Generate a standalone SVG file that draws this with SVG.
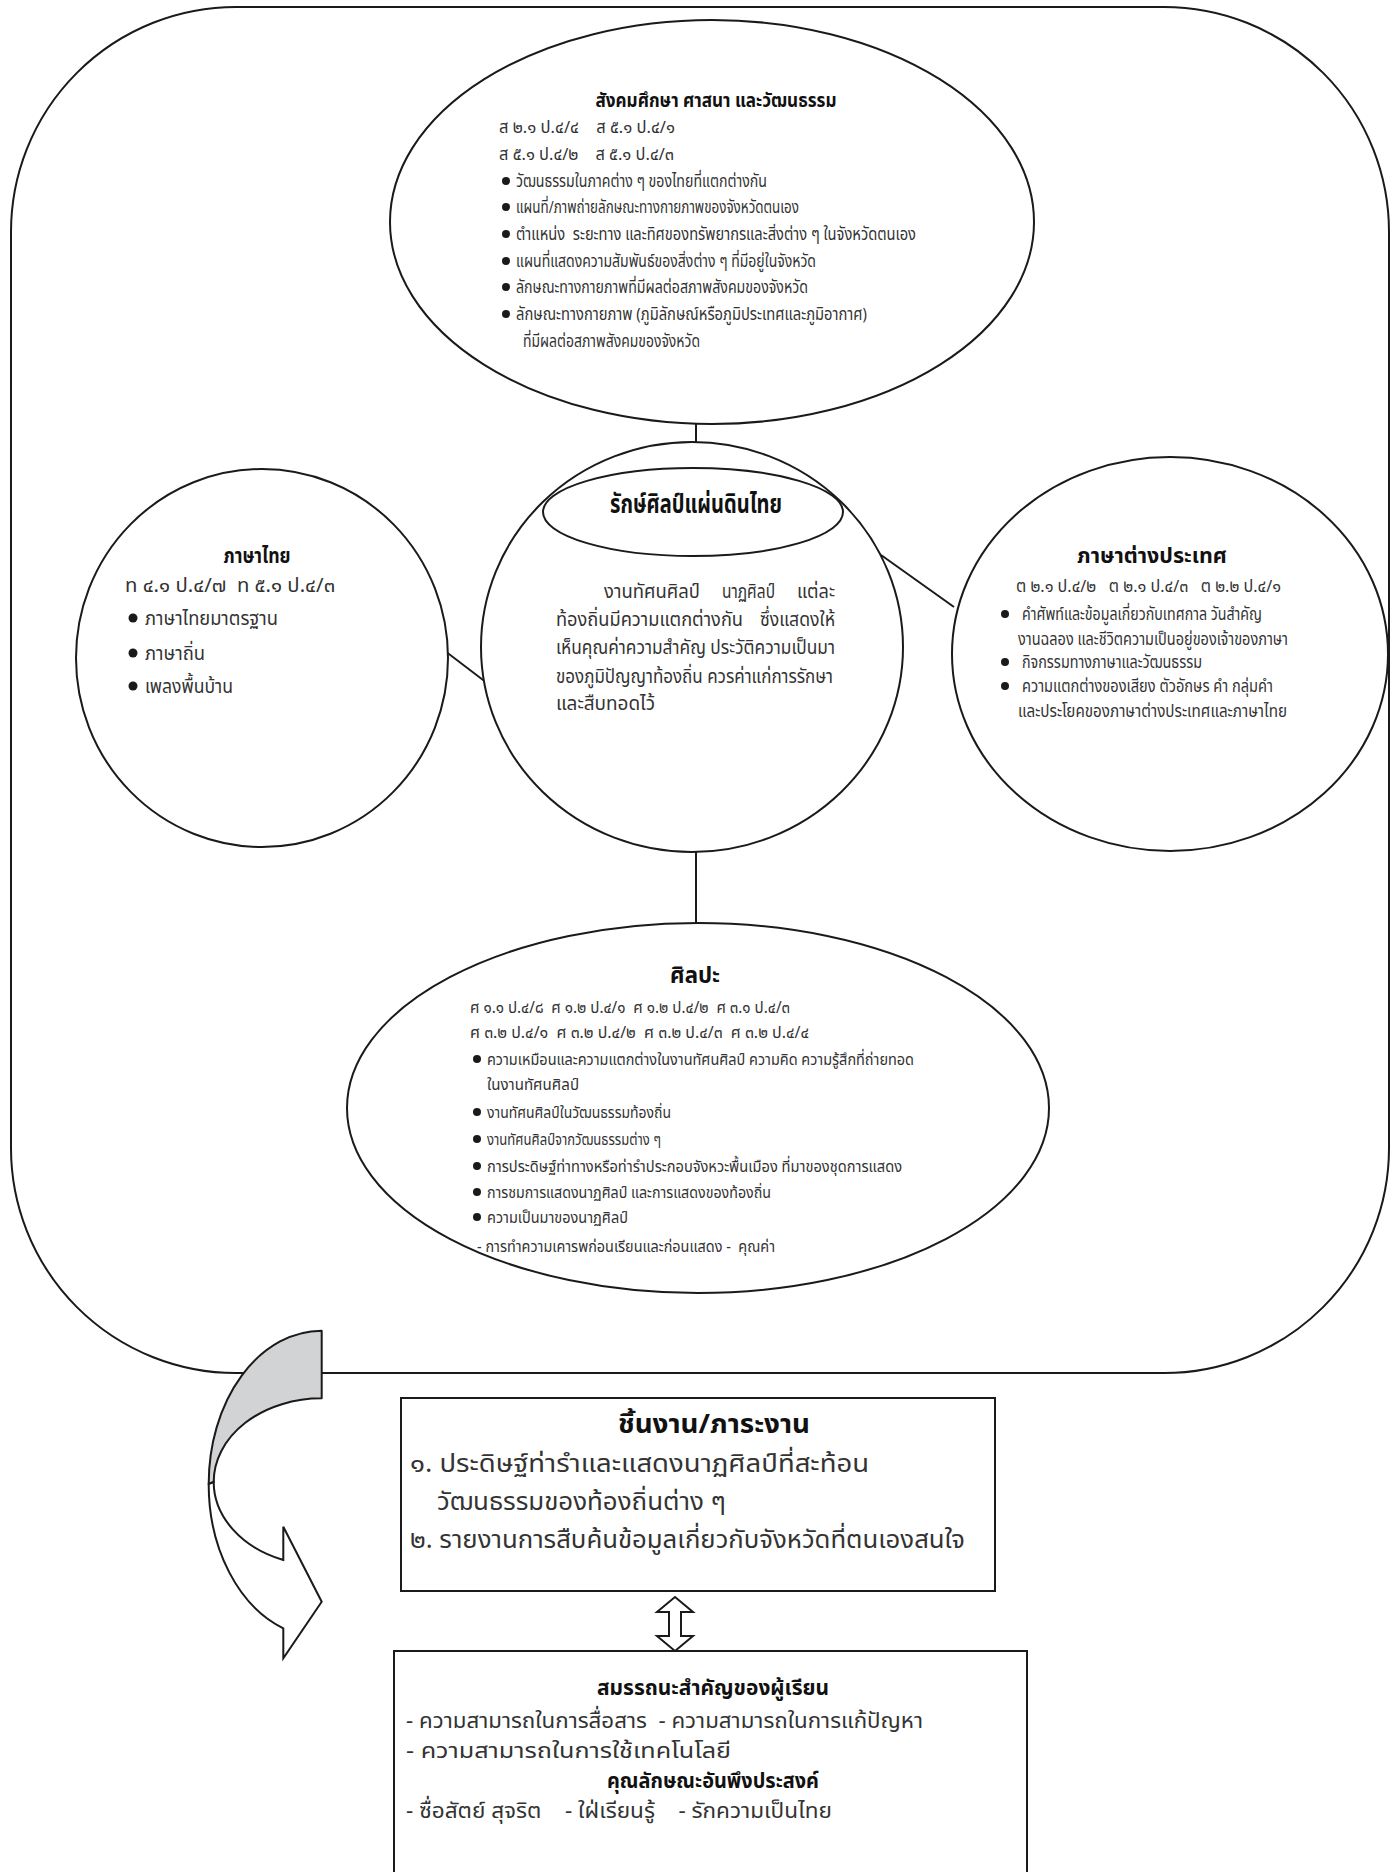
<svg xmlns="http://www.w3.org/2000/svg" width="1390" height="1872" viewBox="0 0 1390 1872">
<style>
.ln{fill:none;stroke:#1a1a1a;stroke-width:2}
.nd{fill:#fff;stroke:#1a1a1a;stroke-width:2}
text{font-family:'Noto Sans Thai','Noto Sans','DejaVu Sans',sans-serif;fill:#333;white-space:pre}
.t{font-weight:bold;fill:#111;text-anchor:middle}
.b{fill:#1a1a1a}
</style>
<rect width="1390" height="1872" fill="#fff"/>
<rect id="frame" class="ln" x="11" y="7" width="1378" height="1366" rx="225" ry="225"/>
<g id="connectors">
<line class="ln" x1="696" y1="423" x2="696" y2="444"/>
<line class="ln" x1="445" y1="651" x2="487" y2="683"/>
<line class="ln" x1="881" y1="555" x2="954" y2="607"/>
<line class="ln" x1="696" y1="852" x2="696" y2="924"/>
</g>
<g id="social">
<ellipse class="nd" cx="712" cy="222" rx="322" ry="202"/>
<text class="t" x="716" y="107" font-size="20" textLength="241" lengthAdjust="spacingAndGlyphs">สังคมศึกษา ศาสนา และวัฒนธรรม</text>
<g font-size="17">
<text x="499" y="133" textLength="176" lengthAdjust="spacingAndGlyphs">ส ๒.๑ ป.๔/๔    ส ๕.๑ ป.๔/๑</text>
<text x="499" y="160" textLength="175" lengthAdjust="spacingAndGlyphs">ส ๕.๑ ป.๔/๒    ส ๕.๑ ป.๔/๓</text>
<text x="516" y="187" textLength="251" lengthAdjust="spacingAndGlyphs">วัฒนธรรมในภาคต่าง ๆ ของไทยที่แตกต่างกัน</text>
<text x="516" y="213" textLength="283" lengthAdjust="spacingAndGlyphs">แผนที่/ภาพถ่ายลักษณะทางกายภาพของจังหวัดตนเอง</text>
<text x="516" y="240" textLength="400" lengthAdjust="spacingAndGlyphs">ตำแหน่ง  ระยะทาง และทิศของทรัพยากรและสิ่งต่าง ๆ ในจังหวัดตนเอง</text>
<text x="516" y="267" textLength="300" lengthAdjust="spacingAndGlyphs">แผนที่แสดงความสัมพันธ์ของสิ่งต่าง ๆ ที่มีอยู่ในจังหวัด</text>
<text x="516" y="293" textLength="292" lengthAdjust="spacingAndGlyphs">ลักษณะทางกายภาพที่มีผลต่อสภาพสังคมของจังหวัด</text>
<text x="516" y="320" textLength="351" lengthAdjust="spacingAndGlyphs">ลักษณะทางกายภาพ (ภูมิลักษณ์หรือภูมิประเทศและภูมิอากาศ)</text>
<text x="523" y="347" textLength="177" lengthAdjust="spacingAndGlyphs">ที่มีผลต่อสภาพสังคมของจังหวัด</text>
</g>
<g class="b"><circle cx="506" cy="181" r="4"/><circle cx="506" cy="207" r="4"/><circle cx="506" cy="234" r="4"/><circle cx="506" cy="261" r="4"/><circle cx="506" cy="287" r="4"/><circle cx="506" cy="314" r="4"/></g>
</g>
<g id="thai">
<ellipse class="nd" cx="262" cy="658" rx="186" ry="189"/>
<text class="t" x="257" y="563" font-size="21" textLength="67" lengthAdjust="spacingAndGlyphs">ภาษาไทย</text>
<g font-size="20">
<text x="125" y="592" textLength="210" lengthAdjust="spacingAndGlyphs">ท ๔.๑ ป.๔/๗  ท ๕.๑ ป.๔/๓</text>
<text x="145" y="625" textLength="133" lengthAdjust="spacingAndGlyphs">ภาษาไทยมาตรฐาน</text>
<text x="145" y="660" textLength="60" lengthAdjust="spacingAndGlyphs">ภาษาถิ่น</text>
<text x="145" y="693" textLength="88" lengthAdjust="spacingAndGlyphs">เพลงพื้นบ้าน</text>
</g>
<g class="b"><circle cx="133" cy="618" r="4.5"/><circle cx="133" cy="653" r="4.5"/><circle cx="133" cy="686" r="4.5"/></g>
</g>
<g id="foreign">
<ellipse class="nd" cx="1170" cy="654" rx="218" ry="197"/>
<text class="t" x="1152" y="563" font-size="22" textLength="150" lengthAdjust="spacingAndGlyphs">ภาษาต่างประเทศ</text>
<g font-size="17">
<text x="1016" y="592" textLength="265" lengthAdjust="spacingAndGlyphs">ต ๒.๑ ป.๔/๒   ต ๒.๑ ป.๔/๓   ต ๒.๒ ป.๔/๑</text>
<text x="1022" y="620" textLength="240" lengthAdjust="spacingAndGlyphs">คำศัพท์และข้อมูลเกี่ยวกับเทศกาล วันสำคัญ</text>
<text x="1018" y="645" textLength="270" lengthAdjust="spacingAndGlyphs">งานฉลอง และชีวิตความเป็นอยู่ของเจ้าของภาษา</text>
<text x="1022" y="668" textLength="180" lengthAdjust="spacingAndGlyphs">กิจกรรมทางภาษาและวัฒนธรรม</text>
<text x="1022" y="692" textLength="251" lengthAdjust="spacingAndGlyphs">ความแตกต่างของเสียง ตัวอักษร คำ กลุ่มคำ</text>
<text x="1018" y="717" textLength="269" lengthAdjust="spacingAndGlyphs">และประโยคของภาษาต่างประเทศและภาษาไทย</text>
</g>
<g class="b"><circle cx="1005" cy="614" r="4"/><circle cx="1005" cy="662" r="4"/><circle cx="1005" cy="686" r="4"/></g>
</g>
<g id="center">
<ellipse class="nd" cx="692" cy="647" rx="211" ry="205"/>
<ellipse class="nd" cx="693" cy="512" rx="150" ry="44"/>
<text class="t" x="696" y="513" font-size="26" textLength="172" lengthAdjust="spacingAndGlyphs">รักษ์ศิลป์แผ่นดินไทย</text>
<g font-size="20">
<text x="604" y="598" textLength="96" lengthAdjust="spacingAndGlyphs">งานทัศนศิลป์</text>
<text x="722" y="598" textLength="53" lengthAdjust="spacingAndGlyphs">นาฏศิลป์</text>
<text x="797" y="598" textLength="38" lengthAdjust="spacingAndGlyphs">แต่ละ</text>
<text x="556" y="626" textLength="187" lengthAdjust="spacingAndGlyphs">ท้องถิ่นมีความแตกต่างกัน</text>
<text x="760" y="626" textLength="75" lengthAdjust="spacingAndGlyphs">ซึ่งแสดงให้</text>
<text x="556" y="654" textLength="279" lengthAdjust="spacingAndGlyphs">เห็นคุณค่าความสำคัญ ประวัติความเป็นมา</text>
<text x="556" y="683" textLength="277" lengthAdjust="spacingAndGlyphs">ของภูมิปัญญาท้องถิ่น ควรค่าแก่การรักษา</text>
<text x="556" y="710" textLength="99" lengthAdjust="spacingAndGlyphs">และสืบทอดไว้</text>
</g>
</g>
<g id="arts">
<ellipse class="nd" cx="698" cy="1108" rx="351" ry="185"/>
<text class="t" x="695" y="983" font-size="23" textLength="50" lengthAdjust="spacingAndGlyphs">ศิลปะ</text>
<g font-size="16">
<text x="470" y="1013" textLength="320" lengthAdjust="spacingAndGlyphs">ศ ๑.๑ ป.๔/๘  ศ ๑.๒ ป.๔/๑  ศ ๑.๒ ป.๔/๒  ศ ๓.๑ ป.๔/๓</text>
<text x="470" y="1038" textLength="339" lengthAdjust="spacingAndGlyphs">ศ ๓.๒ ป.๔/๑  ศ ๓.๒ ป.๔/๒  ศ ๓.๒ ป.๔/๓  ศ ๓.๒ ป.๔/๔</text>
<text x="487" y="1065" textLength="427" lengthAdjust="spacingAndGlyphs">ความเหมือนและความแตกต่างในงานทัศนศิลป์ ความคิด ความรู้สึกที่ถ่ายทอด</text>
<text x="487" y="1090" textLength="92" lengthAdjust="spacingAndGlyphs">ในงานทัศนศิลป์</text>
<text x="487" y="1118" textLength="184" lengthAdjust="spacingAndGlyphs">งานทัศนศิลป์ในวัฒนธรรมท้องถิ่น</text>
<text x="487" y="1145" textLength="174" lengthAdjust="spacingAndGlyphs">งานทัศนศิลป์จากวัฒนธรรมต่าง ๆ</text>
<text x="487" y="1172" textLength="415" lengthAdjust="spacingAndGlyphs">การประดิษฐ์ท่าทางหรือท่ารำประกอบจังหวะพื้นเมือง ที่มาของชุดการแสดง</text>
<text x="487" y="1198" textLength="284" lengthAdjust="spacingAndGlyphs">การชมการแสดงนาฏศิลป์ และการแสดงของท้องถิ่น</text>
<text x="487" y="1223" textLength="141" lengthAdjust="spacingAndGlyphs">ความเป็นมาของนาฏศิลป์</text>
<text x="477" y="1252" textLength="298" lengthAdjust="spacingAndGlyphs">- การทำความเคารพก่อนเรียนและก่อนแสดง -  คุณค่า</text>
</g>
<g class="b"><circle cx="477" cy="1059" r="4"/><circle cx="477" cy="1112" r="4"/><circle cx="477" cy="1139" r="4"/><circle cx="477" cy="1166" r="4"/><circle cx="477" cy="1192" r="4"/><circle cx="477" cy="1217" r="4"/></g>
</g>
<g id="curved-arrow">
<path d="M321.7,1330.7 A113,153 0 0 0 208.7,1484 L213.7,1482 A108,83.6 0 0 1 321.7,1398.3 Z" fill="#d1d3d4" stroke="#1a1a1a" stroke-width="2" stroke-linejoin="round"/>
<path d="M208.7,1484 A113,153 0 0 0 283.3,1628.3 L283.3,1658.3 L321.7,1601.7 L283.3,1526.7 L283.3,1560 A108,83.6 0 0 1 213.7,1482 Z" fill="#fff" stroke="#1a1a1a" stroke-width="2" stroke-linejoin="miter"/>
</g>
<g id="workload">
<rect class="nd" x="401" y="1398" width="594" height="193"/>
<text class="t" x="714" y="1433" font-size="26" textLength="192" lengthAdjust="spacingAndGlyphs">ชิ้นงาน/ภาระงาน</text>
<g font-size="25">
<text x="410" y="1472" textLength="459" lengthAdjust="spacingAndGlyphs">๑. ประดิษฐ์ท่ารำและแสดงนาฏศิลป์ที่สะท้อน</text>
<text x="437" y="1510" textLength="289" lengthAdjust="spacingAndGlyphs">วัฒนธรรมของท้องถิ่นต่าง ๆ</text>
<text x="410" y="1548" textLength="555" lengthAdjust="spacingAndGlyphs">๒. รายงานการสืบค้นข้อมูลเกี่ยวกับจังหวัดที่ตนเองสนใจ</text>
</g>
</g>
<g id="double-arrow">
<path class="nd" d="M675,1597 L693,1612 L681,1612 L681,1636 L693,1636 L675,1651 L657,1636 L669,1636 L669,1612 L657,1612 Z"/>
</g>
<g id="competency">
<rect class="nd" x="394" y="1651" width="633" height="240"/>
<text class="t" x="713" y="1695" font-size="22" textLength="232" lengthAdjust="spacingAndGlyphs">สมรรถนะสำคัญของผู้เรียน</text>
<g font-size="22">
<text x="406" y="1728" textLength="517" lengthAdjust="spacingAndGlyphs">- ความสามารถในการสื่อสาร  - ความสามารถในการแก้ปัญหา</text>
<text x="406" y="1758" textLength="325" lengthAdjust="spacingAndGlyphs">- ความสามารถในการใช้เทคโนโลยี</text>
<text x="406" y="1818" textLength="426" lengthAdjust="spacingAndGlyphs">- ซื่อสัตย์ สุจริต    - ใฝ่เรียนรู้    - รักความเป็นไทย</text>
</g>
<text class="t" x="713" y="1788" font-size="22" textLength="212" lengthAdjust="spacingAndGlyphs">คุณลักษณะอันพึงประสงค์</text>
</g>
</svg>
